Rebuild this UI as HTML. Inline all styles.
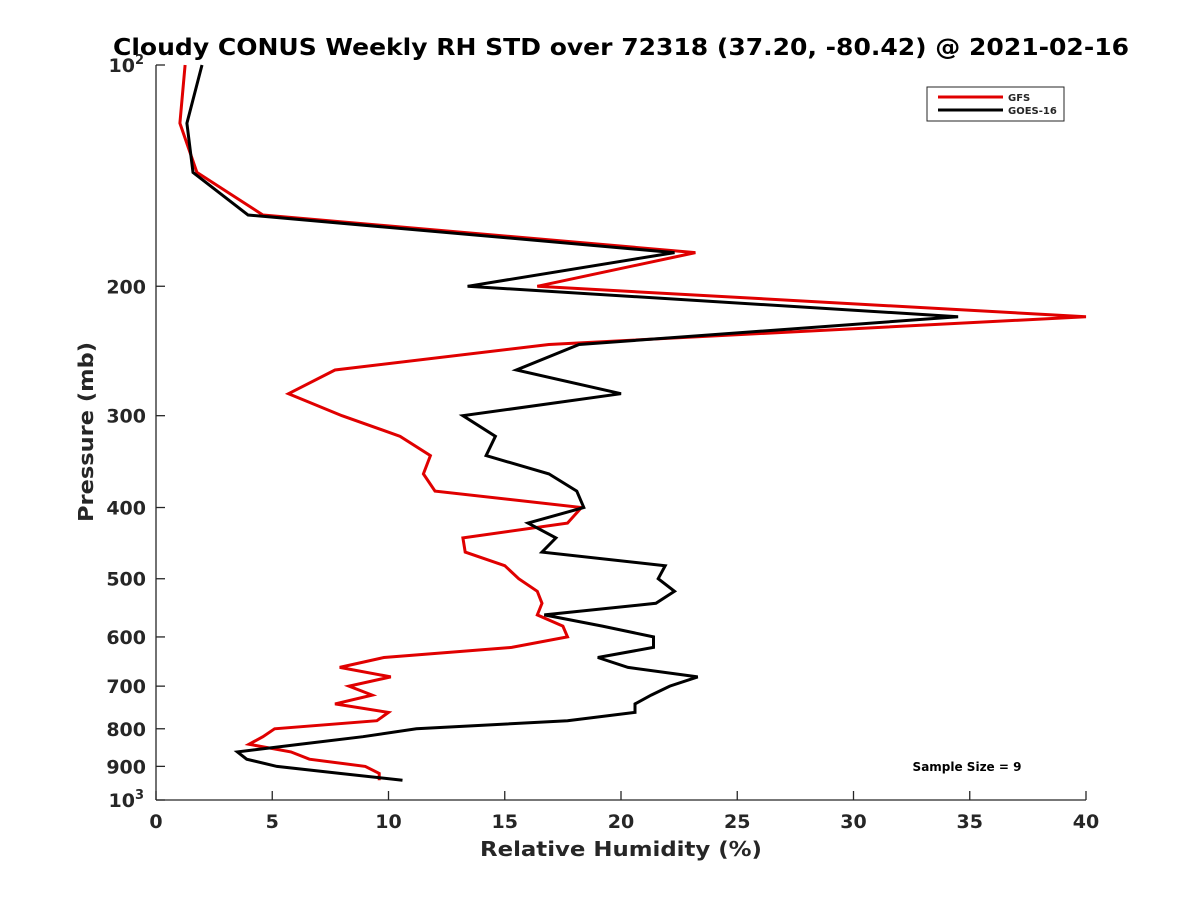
<!DOCTYPE html>
<html><head><meta charset="utf-8"><style>
body{margin:0;background:#fff;}
svg text{font-family:"DejaVu Sans","Liberation Sans",sans-serif;font-weight:bold;fill:#262626;}
</style></head><body>
<svg id="chart" width="1200" height="900" viewBox="0 0 1200 900" xmlns="http://www.w3.org/2000/svg">
<rect width="1200" height="900" fill="#fff"/>
<text x="621" y="55" font-size="23" text-anchor="middle" textLength="1016" lengthAdjust="spacingAndGlyphs" style="fill:#000">Cloudy CONUS Weekly RH STD over 72318 (37.20, -80.42) @ 2021-02-16</text>
<g id="axes"></g>
<g id="series"></g>
<text x="621" y="856" font-size="20" text-anchor="middle" textLength="282" lengthAdjust="spacingAndGlyphs">Relative Humidity (%)</text>
<text transform="translate(93,432) rotate(-90)" font-size="20" text-anchor="middle" textLength="180" lengthAdjust="spacingAndGlyphs">Pressure (mb)</text>
<g>
<rect x="927" y="87" width="137" height="34" fill="#fff" stroke="#262626" stroke-width="1"/>
<line x1="938" y1="97" x2="1003" y2="97" stroke="#e00000" stroke-width="3"/>
<text x="1008" y="101" font-size="10">GFS</text>
<line x1="938" y1="110" x2="1003" y2="110" stroke="#000" stroke-width="3"/>
<text x="1008" y="114" font-size="10">GOES-16</text>
</g>
<text x="967" y="771" font-size="12" text-anchor="middle" style="fill:#000">Sample Size = 9</text>
</svg>
<script>
const pressures=[100,120,140,160,180,200,220,240,260,280,300,320,340,360,380,400,420,440,460,480,500,520,540,560,580,600,620,640,660,680,700,720,740,760,780,800,820,840,860,880,900,920,940];
const gfsValues=[1.25,1.03,1.76,4.6,23.2,16.4,40,16.9,7.7,5.7,8.0,10.5,11.8,11.5,12.0,18.3,17.7,13.2,13.3,15.0,15.6,16.4,16.6,16.4,17.5,17.7,15.3,9.8,7.9,10.1,8.3,9.3,7.7,10.0,9.5,5.1,4.6,4.0,5.8,6.6,9.0,9.6,9.6];
const goesValues=[1.98,1.33,1.59,3.96,22.3,13.4,34.5,18.2,15.5,20.0,13.2,14.6,14.2,16.9,18.1,18.4,16.0,17.2,16.6,21.9,21.6,22.3,21.5,16.7,19.2,21.4,21.4,19.0,20.3,23.3,22.1,21.3,20.6,20.6,17.7,11.2,8.9,6.2,3.5,3.9,5.2,7.9,10.6];
const xTicks=[0,5,10,15,20,25,30,35,40];
const yTicks=[100,200,300,400,500,600,700,800,900,1000];
const yTickLabels=["10","200","300","400","500","600","700","800","900","10"];

const L=156,R=1086,T=65,B=800;
const xs=v=>L+(v-0)/(40-0)*(R-L);
const ys=p=>T+(Math.log10(p)-2)*(B-T);
const NS="http://www.w3.org/2000/svg";
function mk(tag,attrs,parent){const e=document.createElementNS(NS,tag);for(const k in attrs)e.setAttribute(k,attrs[k]);parent.appendChild(e);return e;}
const ax=document.getElementById('axes');
let e=mk('line',{x1:L,y1:T,x2:L,y2:B,stroke:'#262626','stroke-width':1.3},ax);


e=mk('line',{x1:L,y1:B,x2:R,y2:B,stroke:'#262626','stroke-width':1.3},ax);


xTicks.forEach(v=>{
  const x=xs(v);
  let t=mk('line',{x1:x,y1:B,x2:x,y2:B-9,stroke:'#262626','stroke-width':1.3},ax);
  
  
  let lb=mk('text',{x:x,y:B+28,'font-size':19,'text-anchor':'middle'},ax);
  lb.textContent=v;
  
  
});
yTicks.forEach((p,i)=>{
  const y=ys(p);
  let t=mk('line',{x1:L,y1:y,x2:L+9,y2:y,stroke:'#262626','stroke-width':1.3},ax);
  
  
  let lb=mk('text',{x:(i==0||i==yTicks.length-1)?L-10-11:L-10,y:y+7,'font-size':19,'text-anchor':'end'},ax);
  lb.textContent=yTickLabels[i];
  
  
  if(i==0||i==yTicks.length-1){
    let s=mk('text',{x:L-21,y:y-1,'font-size':13,'text-anchor':'start'},ax);
    s.textContent=i==0?'2':'3';
    
    
  }
});
const sg=document.getElementById('series');
function drawLine(vals,color,name){
  const pts=vals.map((v,i)=>xs(v).toFixed(1)+','+ys(pressures[i]).toFixed(1)).join(' ');
  const pl=mk('polyline',{points:pts,fill:'none',stroke:color,'stroke-width':3,'stroke-linejoin':'miter'},sg);
  
  
}
drawLine(gfsValues,'#e00000','gfs-line');
drawLine(goesValues,'#000000','goes16-line');
</script>
</body></html>
